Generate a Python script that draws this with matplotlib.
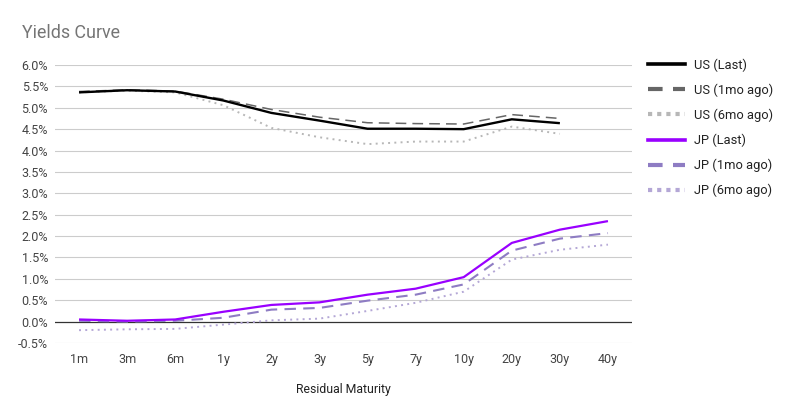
import numpy as np
import matplotlib
matplotlib.use("Agg")
import matplotlib.pyplot as plt
from matplotlib.lines import Line2D

plt.rcParams['font.family'] = ['Roboto', 'DejaVu Sans']

maturities = ["1m", "3m", "6m", "1y", "2y", "3y", "5y", "7y", "10y", "20y", "30y", "40y"]
us_last = [5.36, 5.41, 5.38, 5.17, 4.88, 4.70, 4.51, 4.51, 4.50, 4.73, 4.64, np.nan]
us_1mo = [5.38, 5.42, 5.39, 5.20, 4.96, 4.78, 4.65, 4.63, 4.62, 4.84, 4.75, np.nan]
us_6mo = [5.36, 5.40, 5.36, 5.06, 4.53, 4.31, 4.15, 4.21, 4.21, 4.56, 4.39, np.nan]
jp_last = [0.05, 0.02, 0.05, 0.23, 0.39, 0.45, 0.63, 0.77, 1.04, 1.84, 2.15, 2.35]
jp_1mo = [0.02, 0.00, 0.02, 0.09, 0.28, 0.32, 0.49, 0.63, 0.87, 1.66, 1.94, 2.07]
jp_6mo = [-0.20, -0.18, -0.17, -0.07, 0.03, 0.07, 0.25, 0.44, 0.70, 1.45, 1.68, 1.80]
series_labels = ["US (Last)", "US (1mo ago)", "US (6mo ago)", "JP (Last)", "JP (1mo ago)", "JP (6mo ago)"]
y_ticks = [-0.5, 0.0, 0.5, 1.0, 1.5, 2.0, 2.5, 3.0, 3.5, 4.0, 4.5, 5.0, 5.5, 6.0]

fig = plt.figure(figsize=(7.94, 4.18), dpi=100)
ax = fig.add_axes([55/794, 1-343/418, (632-55)/794, (343-65)/418])

x = np.arange(len(maturities))
styles = [
    dict(color="#000000", lw=1.7, ls="-"),
    dict(color="#666666", lw=1.1, ls=(0, (7, 4))),
    dict(color="#b7b7b7", lw=1.4, ls=(0, (1, 2.2))),
    dict(color="#9900ff", lw=1.6, ls="-"),
    dict(color="#8e7cc3", lw=1.5, ls=(0, (5.5, 3.5))),
    dict(color="#b4a7d6", lw=1.4, ls=(0, (1, 2.2))),
]
data = [us_last, us_1mo, us_6mo, jp_last, jp_1mo, jp_6mo]

for yv in y_ticks:
    if yv != 0:
        ax.axhline(yv, color="#cccccc", lw=0.8, zorder=0)
ax.axhline(0, color="#333333", lw=0.9, zorder=1)

order = [5, 4, 3, 2, 1, 0]
for i in order:
    ax.plot(x, data[i], zorder=3 + (5 - i), solid_capstyle='butt', dash_capstyle='butt', **styles[i])

ax.set_xlim(-0.5, len(maturities) - 0.5)
ax.set_ylim(-0.5, 6.0)
ax.set_xticks(x)
ax.set_xticklabels(maturities)
ax.set_yticks(y_ticks)
ax.set_yticklabels([f"{v:.1f}%" for v in y_ticks])
ax.tick_params(axis='both', length=0, colors="#444444", labelsize=9)
ax.tick_params(axis='x', pad=7)
ax.tick_params(axis='y', pad=5)
for s in ax.spines.values():
    s.set_visible(False)
ax.set_facecolor('none')

fig.text(343.5/794, 1-389/418, "Residual Maturity", ha='center', va='center', fontsize=8.8, color="#222222")
fig.text(22/794, 1-38/418, "Yields Curve", ha='left', va='baseline', fontsize=12.9, color="#757575")

handles = [Line2D([0], [0], **dict(styles[i], lw=2.6 if i in (0, 3) else 2.4)) for i in range(6)]
handles[1] = Line2D([0], [0], color="#666666", lw=3, ls=(0, (3.5, 2.5)))
handles[2] = Line2D([0], [0], color="#b7b7b7", lw=3, ls=(0, (1, 1.2)))
handles[4] = Line2D([0], [0], color="#8e7cc3", lw=3, ls=(0, (3.5, 2.5)))
handles[5] = Line2D([0], [0], color="#b4a7d6", lw=3, ls=(0, (1, 1.2)))
leg = fig.legend(handles, series_labels, loc='upper left', bbox_to_anchor=(648/794, 1-58.5/418),
                 frameon=False, fontsize=9.3, handlelength=2.9, handletextpad=0.65,
                 labelspacing=0.9, borderaxespad=0, borderpad=0)
for t in leg.get_texts():
    t.set_color("#222222")

fig.savefig("out.png", dpi=100)
